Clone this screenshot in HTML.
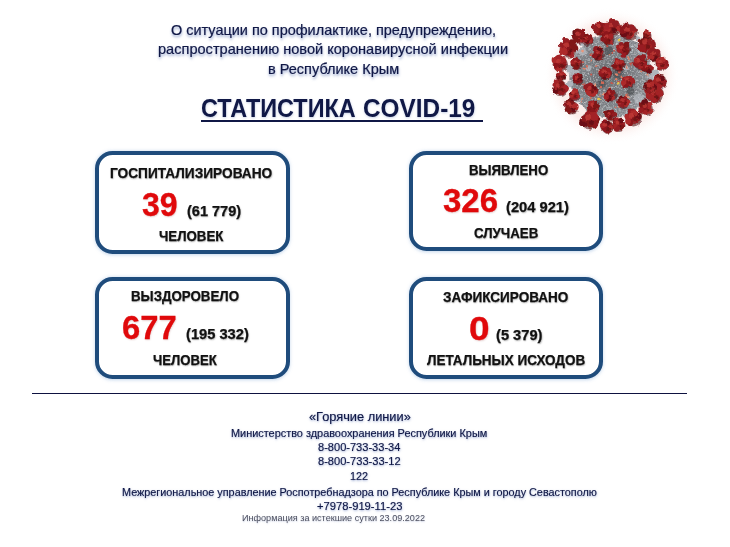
<!DOCTYPE html>
<html lang="ru"><head><meta charset="utf-8"><title>COVID-19</title>
<style>
html,body{margin:0;padding:0;}
body{width:730px;height:547px;position:relative;overflow:hidden;background:#fff;font-family:"Liberation Sans",sans-serif;}
.t{position:absolute;white-space:nowrap;transform-origin:0 0;display:block;}
.glow{text-shadow:0.3px 1.6px 2.8px rgba(60,90,165,.6);-webkit-text-stroke:0.2px #101846;}
.tglow{text-shadow:0.3px 1.2px 2.5px rgba(70,100,170,.3);}
.sh{text-shadow:0.6px 0.9px 1.6px rgba(0,0,0,.32);-webkit-text-stroke:0.25px #111;}
.rsh{text-shadow:0.6px 0.9px 1.8px rgba(120,0,0,.22);-webkit-text-stroke:0.3px #e0090b;}
.fglow{text-shadow:0.3px 1.2px 2.2px rgba(60,90,165,.55);-webkit-text-stroke:0.15px #101846;}
.box{position:absolute;box-sizing:border-box;border:4.2px solid #1f4c7c;border-radius:17.5px;background:#fff;box-shadow:0 0.5px 3.5px rgba(90,140,200,.35);}
.line{position:absolute;background:#101846;}
.iglow{text-shadow:0.2px 0.8px 1.5px rgba(80,100,160,.3);}
#pg{position:absolute;left:0;top:0;width:730px;height:547px;filter:blur(0.4px);}

</style></head><body>
<div id="pg">
<div class="box" style="left:95.3px;top:151px;width:194.5px;height:102.7px"></div>
<div class="box" style="left:408.8px;top:151.1px;width:194.6px;height:99.6px"></div>
<div class="box" style="left:95.3px;top:277.1px;width:194.5px;height:102.3px"></div>
<div class="box" style="left:408.8px;top:277.1px;width:194.5px;height:102.3px"></div>
<div class="line" style="left:200.5px;top:120.2px;width:282.5px;height:1.8px"></div>
<div class="line" style="left:31.8px;top:392.8px;width:655.2px;height:1.6px;background:#0e1240"></div>
<!--VIRUS-->
<svg id="virus" style="position:absolute;left:535px;top:0px" width="155" height="155" viewBox="535 0 155 155">
<defs>
<radialGradient id="vg" cx="0.45" cy="0.5" r="0.55"><stop offset="0" stop-color="#62676b"/><stop offset="0.6" stop-color="#7d8286"/><stop offset="1" stop-color="#999da2"/></radialGradient>
<radialGradient id="halo" cx="0.5" cy="0.5" r="0.5"><stop offset="0.78" stop-color="#f4d3cd" stop-opacity=".4"/><stop offset="1" stop-color="#fff" stop-opacity="0"/></radialGradient>
<filter id="vb" x="-10%" y="-10%" width="120%" height="120%"><feTurbulence type="fractalNoise" baseFrequency="0.18" numOctaves="2" seed="5" result="t"/><feDisplacementMap in="SourceGraphic" in2="t" scale="3.8" xChannelSelector="R" yChannelSelector="G" result="d"/><feGaussianBlur in="d" stdDeviation="0.5"/></filter>
<filter id="sp" x="0" y="0" width="100%" height="100%"><feTurbulence type="fractalNoise" baseFrequency="0.5" numOctaves="2" seed="3" result="n"/><feColorMatrix in="n" type="matrix" values="0 0 0 0 0.2  0 0 0 0 0.2  0 0 0 0 0.22  2.4 0 0 0 -0.9"/><feComposite in2="SourceGraphic" operator="in"/></filter>
<filter id="sp2" x="0" y="0" width="100%" height="100%"><feTurbulence type="fractalNoise" baseFrequency="0.6" numOctaves="2" seed="9" result="n"/><feColorMatrix in="n" type="matrix" values="0 0 0 0 0.78  0 0 0 0 0.80  0 0 0 0 0.83  0 1.8 0 0 -0.85"/><feComposite in2="SourceGraphic" operator="in"/></filter>
</defs>
<circle cx="611.67" cy="76.17" r="68" fill="url(#halo)"/>
<g transform="translate(611.2 76.1) scale(0.972) translate(-611.7 -76.2)"><g filter="url(#vb)">
<circle cx="611.67" cy="76.17" r="43" fill="url(#vg)"/>
<circle cx="611.67" cy="76.17" r="43" fill="#000" filter="url(#sp)"/>
<circle cx="611.67" cy="76.17" r="43" fill="#000" filter="url(#sp2)"/>
<circle cx="588.2" cy="68.0" r="3.0" fill="#b9bec5" opacity=".7"/>
<circle cx="573.4" cy="71.7" r="5.9" fill="#b9bec5" opacity=".7"/>
<circle cx="640.1" cy="100.1" r="4.9" fill="#b9bec5" opacity=".7"/>
<circle cx="582.0" cy="50.7" r="4.4" fill="#b9bec5" opacity=".7"/>
<circle cx="653.6" cy="77.9" r="4.0" fill="#b9bec5" opacity=".7"/>
<circle cx="627.7" cy="68.0" r="2.5" fill="#b9bec5" opacity=".7"/>
<circle cx="642.5" cy="48.3" r="4.0" fill="#b9bec5" opacity=".7"/>
<circle cx="568.5" cy="68.0" r="4.0" fill="#aeb4bb"/>
<circle cx="569.7" cy="84.1" r="3.5" fill="#aeb4bb"/>
<circle cx="657.3" cy="73.0" r="3.5" fill="#aeb4bb"/>
<circle cx="651.2" cy="97.7" r="4.0" fill="#aeb4bb"/>
<circle cx="582.0" cy="42.1" r="3.0" fill="#aeb4bb"/>
<circle cx="638.8" cy="37.2" r="3.0" fill="#aeb4bb"/>
<circle cx="577.1" cy="100.1" r="3.0" fill="#aeb4bb"/>
<circle cx="626.5" cy="116.2" r="2.5" fill="#aeb4bb"/>
<circle cx="609.2" cy="49.5" r="4.4" fill="#3c3f44" opacity=".55"/>
<circle cx="619.1" cy="74.2" r="5.4" fill="#3c3f44" opacity=".55"/>
<circle cx="601.8" cy="84.1" r="4.4" fill="#3c3f44" opacity=".55"/>
<circle cx="631.4" cy="91.5" r="4.0" fill="#3c3f44" opacity=".55"/>
<circle cx="653.6" cy="49.5" r="3.5" fill="#3c3f44" opacity=".55"/>
<circle cx="582.5" cy="85.2" r="1.2" fill="#c9574a"/>
<circle cx="622.6" cy="62.1" r="1.3" fill="#c9574a"/>
<circle cx="615.0" cy="64.1" r="1.0" fill="#e9967a"/>
<circle cx="574.3" cy="66.9" r="1.3" fill="#e08066"/>
<circle cx="589.9" cy="92.8" r="1.3" fill="#d96a55"/>
<circle cx="616.7" cy="67.2" r="1.0" fill="#e08066"/>
<circle cx="612.0" cy="83.2" r="1.1" fill="#c9574a"/>
<circle cx="596.5" cy="66.4" r="1.3" fill="#d96a55"/>
<circle cx="578.5" cy="76.2" r="1.3" fill="#c9574a"/>
<circle cx="586.4" cy="92.9" r="1.3" fill="#e08066"/>
<circle cx="603.9" cy="94.1" r="0.9" fill="#e9967a"/>
<circle cx="599.3" cy="71.0" r="1.4" fill="#e08066"/>
<circle cx="581.5" cy="102.3" r="1.0" fill="#e08066"/>
<circle cx="620.0" cy="72.0" r="1.5" fill="#c9574a"/>
<circle cx="602.9" cy="82.8" r="1.4" fill="#d96a55"/>
<circle cx="610.2" cy="88.1" r="0.9" fill="#e9967a"/>
<circle cx="578.6" cy="97.2" r="1.0" fill="#d96a55"/>
<circle cx="619.7" cy="82.1" r="1.0" fill="#c9574a"/>
<circle cx="586.3" cy="66.2" r="1.5" fill="#d96a55"/>
<circle cx="614.9" cy="50.0" r="1.0" fill="#c9574a"/>
<circle cx="595.1" cy="85.2" r="1.4" fill="#e9967a"/>
<circle cx="642.7" cy="71.2" r="1.0" fill="#e08066"/>
<circle cx="582.0" cy="99.4" r="0.9" fill="#e08066"/>
<circle cx="628.1" cy="97.7" r="1.4" fill="#e08066"/>
<circle cx="601.1" cy="95.7" r="0.9" fill="#e08066"/>
<circle cx="620.0" cy="107.6" r="1.3" fill="#e08066"/>
<circle cx="592.7" cy="96.0" r="1.4" fill="#c9574a"/>
<circle cx="628.3" cy="95.3" r="1.1" fill="#d96a55"/>
<circle cx="616.0" cy="107.8" r="1.0" fill="#d96a55"/>
<circle cx="590.7" cy="54.2" r="1.4" fill="#c9574a"/>
<circle cx="590.6" cy="60.1" r="1.0" fill="#e08066"/>
<circle cx="591.1" cy="74.6" r="1.1" fill="#c9574a"/>
<circle cx="625.7" cy="48.0" r="1.2" fill="#e9967a"/>
<circle cx="648.1" cy="58.8" r="1.0" fill="#d96a55"/>
<circle cx="576.6" cy="62.4" r="1.1" fill="#e08066"/>
<circle cx="627.7" cy="67.0" r="0.9" fill="#e08066"/>
<circle cx="594.4" cy="86.9" r="1.0" fill="#e08066"/>
<circle cx="590.7" cy="98.8" r="1.0" fill="#d96a55"/>
<circle cx="629.3" cy="97.1" r="1.3" fill="#e9967a"/>
<circle cx="600.4" cy="47.1" r="1.3" fill="#d96a55"/>
<circle cx="636.6" cy="63.2" r="1.3" fill="#e9967a"/>
<circle cx="617.5" cy="74.8" r="1.2" fill="#e08066"/>
<circle cx="608.9" cy="53.3" r="0.9" fill="#e08066"/>
<circle cx="578.1" cy="66.2" r="1.4" fill="#d96a55"/>
<circle cx="632.5" cy="63.9" r="1.4" fill="#c9574a"/>
<circle cx="629.8" cy="57.1" r="1.4" fill="#e08066"/>
<circle cx="582.7" cy="61.9" r="1.1" fill="#c9574a"/>
<circle cx="622.6" cy="77.0" r="1.3" fill="#e08066"/>
<circle cx="649.9" cy="74.6" r="1.1" fill="#e9967a"/>
<circle cx="608.7" cy="45.2" r="1.2" fill="#c9574a"/>
<circle cx="583.3" cy="68.6" r="1.1" fill="#e08066"/>
<circle cx="616.9" cy="79.4" r="1.2" fill="#e08066"/>
<circle cx="582.2" cy="50.4" r="1.4" fill="#e9967a"/>
<circle cx="601.2" cy="87.6" r="1.2" fill="#d96a55"/>
<circle cx="612.2" cy="52.3" r="1.2" fill="#c9574a"/>
<circle cx="619.8" cy="39.1" r="1.5" fill="#e6c34a"/>
<circle cx="598.8" cy="99.6" r="1.5" fill="#e6c34a"/>
<circle cx="619.1" cy="84.1" r="1.5" fill="#e6c34a"/>
<circle cx="600.5" cy="27.8" r="7.3" fill="#4e0d10" opacity=".6"/>
<circle cx="599.8" cy="26.8" r="5.9" fill="#87181b"/>
<circle cx="604.3" cy="26.1" r="2.7" fill="#801619"/>
<circle cx="603.3" cy="30.8" r="3.5" fill="#a32225"/>
<circle cx="599.1" cy="31.6" r="2.7" fill="#801619"/>
<circle cx="596.4" cy="29.5" r="2.5" fill="#931e21"/>
<circle cx="594.2" cy="25.7" r="2.7" fill="#931e21"/>
<circle cx="598.8" cy="22.7" r="3.5" fill="#a32225"/>
<circle cx="602.5" cy="22.9" r="2.8" fill="#8d191c"/>
<circle cx="598.6" cy="24.8" r="2.3" fill="#c03b37" opacity=".8"/>
<circle cx="601.9" cy="29.2" r="1.8" fill="#5e0f12" opacity=".7"/>
<circle cx="613.6" cy="26.8" r="7.9" fill="#4e0d10" opacity=".6"/>
<circle cx="612.9" cy="25.8" r="6.3" fill="#87181b"/>
<circle cx="618.9" cy="27.0" r="3.0" fill="#ad2a2b"/>
<circle cx="615.0" cy="29.8" r="2.7" fill="#6c1013"/>
<circle cx="611.1" cy="30.7" r="3.5" fill="#801619"/>
<circle cx="608.0" cy="27.9" r="3.2" fill="#ad2a2b"/>
<circle cx="607.2" cy="24.9" r="3.6" fill="#a32225"/>
<circle cx="612.6" cy="19.7" r="3.2" fill="#981c20"/>
<circle cx="616.6" cy="21.9" r="3.1" fill="#931e21"/>
<circle cx="611.6" cy="23.6" r="2.4" fill="#c03b37" opacity=".8"/>
<circle cx="615.1" cy="28.4" r="1.9" fill="#5e0f12" opacity=".7"/>
<circle cx="630.4" cy="31.2" r="8.4" fill="#4e0d10" opacity=".6"/>
<circle cx="629.7" cy="30.2" r="6.7" fill="#87181b"/>
<circle cx="634.2" cy="29.1" r="3.5" fill="#931e21"/>
<circle cx="632.9" cy="33.0" r="3.5" fill="#ad2a2b"/>
<circle cx="629.9" cy="35.0" r="3.3" fill="#931e21"/>
<circle cx="624.6" cy="32.0" r="4.2" fill="#6c1013"/>
<circle cx="623.7" cy="28.8" r="4.1" fill="#8d191c"/>
<circle cx="626.8" cy="24.6" r="3.3" fill="#8d191c"/>
<circle cx="632.5" cy="26.5" r="3.3" fill="#981c20"/>
<circle cx="628.3" cy="27.9" r="2.6" fill="#c03b37" opacity=".8"/>
<circle cx="632.0" cy="33.0" r="2.1" fill="#5e0f12" opacity=".7"/>
<circle cx="648.2" cy="44.3" r="8.4" fill="#4e0d10" opacity=".6"/>
<circle cx="647.5" cy="43.3" r="6.7" fill="#87181b"/>
<circle cx="653.7" cy="43.6" r="3.9" fill="#931e21"/>
<circle cx="650.9" cy="46.9" r="2.9" fill="#a32225"/>
<circle cx="644.9" cy="48.8" r="3.0" fill="#8d191c"/>
<circle cx="643.3" cy="46.2" r="4.2" fill="#981c20"/>
<circle cx="642.1" cy="40.6" r="3.2" fill="#801619"/>
<circle cx="647.1" cy="39.1" r="2.9" fill="#6c1013"/>
<circle cx="650.7" cy="38.9" r="3.2" fill="#931e21"/>
<circle cx="646.1" cy="41.0" r="2.6" fill="#c03b37" opacity=".8"/>
<circle cx="649.8" cy="46.1" r="2.1" fill="#5e0f12" opacity=".7"/>
<circle cx="656.8" cy="55.4" r="6.6" fill="#4e0d10" opacity=".6"/>
<circle cx="656.1" cy="54.4" r="5.2" fill="#87181b"/>
<circle cx="659.7" cy="55.4" r="2.3" fill="#931e21"/>
<circle cx="657.8" cy="57.6" r="2.9" fill="#801619"/>
<circle cx="654.2" cy="58.1" r="3.2" fill="#6c1013"/>
<circle cx="652.0" cy="56.4" r="3.2" fill="#ad2a2b"/>
<circle cx="651.6" cy="52.3" r="3.0" fill="#981c20"/>
<circle cx="655.0" cy="50.3" r="3.0" fill="#931e21"/>
<circle cx="659.0" cy="51.4" r="3.2" fill="#931e21"/>
<circle cx="655.0" cy="52.6" r="2.0" fill="#c03b37" opacity=".8"/>
<circle cx="657.9" cy="56.6" r="1.6" fill="#5e0f12" opacity=".7"/>
<circle cx="663.7" cy="64.1" r="6.6" fill="#4e0d10" opacity=".6"/>
<circle cx="663.0" cy="63.1" r="5.2" fill="#87181b"/>
<circle cx="667.5" cy="62.4" r="3.1" fill="#931e21"/>
<circle cx="665.2" cy="66.2" r="3.2" fill="#a32225"/>
<circle cx="662.0" cy="67.3" r="2.6" fill="#a32225"/>
<circle cx="660.5" cy="65.2" r="2.2" fill="#ad2a2b"/>
<circle cx="659.9" cy="60.3" r="2.8" fill="#ad2a2b"/>
<circle cx="663.3" cy="59.6" r="2.9" fill="#981c20"/>
<circle cx="664.7" cy="59.2" r="3.2" fill="#ad2a2b"/>
<circle cx="661.9" cy="61.3" r="2.0" fill="#c03b37" opacity=".8"/>
<circle cx="664.8" cy="65.3" r="1.6" fill="#5e0f12" opacity=".7"/>
<circle cx="661.7" cy="82.6" r="7.3" fill="#4e0d10" opacity=".6"/>
<circle cx="661.0" cy="81.6" r="5.9" fill="#87181b"/>
<circle cx="665.5" cy="82.4" r="3.0" fill="#a32225"/>
<circle cx="664.6" cy="84.4" r="3.6" fill="#931e21"/>
<circle cx="658.9" cy="85.8" r="2.7" fill="#981c20"/>
<circle cx="655.9" cy="83.7" r="3.3" fill="#a32225"/>
<circle cx="658.3" cy="79.1" r="2.7" fill="#a32225"/>
<circle cx="660.6" cy="77.3" r="2.7" fill="#801619"/>
<circle cx="664.0" cy="77.9" r="2.6" fill="#6c1013"/>
<circle cx="659.8" cy="79.6" r="2.3" fill="#c03b37" opacity=".8"/>
<circle cx="663.1" cy="84.1" r="1.8" fill="#5e0f12" opacity=".7"/>
<circle cx="656.8" cy="95.0" r="9.2" fill="#4e0d10" opacity=".6"/>
<circle cx="656.1" cy="94.0" r="7.3" fill="#87181b"/>
<circle cx="661.3" cy="94.0" r="4.1" fill="#a32225"/>
<circle cx="658.1" cy="98.1" r="3.7" fill="#8d191c"/>
<circle cx="654.9" cy="98.8" r="4.4" fill="#a32225"/>
<circle cx="651.4" cy="96.1" r="4.4" fill="#a32225"/>
<circle cx="650.2" cy="90.6" r="4.5" fill="#a32225"/>
<circle cx="655.3" cy="88.5" r="3.5" fill="#a32225"/>
<circle cx="659.8" cy="88.1" r="4.2" fill="#a32225"/>
<circle cx="654.6" cy="91.4" r="2.9" fill="#c03b37" opacity=".8"/>
<circle cx="658.7" cy="97.0" r="2.2" fill="#5e0f12" opacity=".7"/>
<circle cx="648.2" cy="109.8" r="7.3" fill="#4e0d10" opacity=".6"/>
<circle cx="647.5" cy="108.8" r="5.9" fill="#87181b"/>
<circle cx="651.3" cy="108.1" r="2.6" fill="#a32225"/>
<circle cx="651.0" cy="111.5" r="3.5" fill="#ad2a2b"/>
<circle cx="646.5" cy="114.0" r="2.7" fill="#a32225"/>
<circle cx="642.5" cy="110.7" r="2.7" fill="#981c20"/>
<circle cx="642.8" cy="105.8" r="2.6" fill="#801619"/>
<circle cx="646.3" cy="103.7" r="3.7" fill="#6c1013"/>
<circle cx="651.5" cy="105.4" r="2.6" fill="#ad2a2b"/>
<circle cx="646.2" cy="106.7" r="2.3" fill="#c03b37" opacity=".8"/>
<circle cx="649.5" cy="111.2" r="1.8" fill="#5e0f12" opacity=".7"/>
<circle cx="634.6" cy="119.6" r="8.4" fill="#4e0d10" opacity=".6"/>
<circle cx="633.9" cy="118.6" r="6.7" fill="#87181b"/>
<circle cx="639.2" cy="117.1" r="4.1" fill="#6c1013"/>
<circle cx="636.8" cy="122.2" r="3.1" fill="#981c20"/>
<circle cx="631.2" cy="124.6" r="2.9" fill="#8d191c"/>
<circle cx="629.0" cy="122.8" r="2.9" fill="#ad2a2b"/>
<circle cx="628.9" cy="117.6" r="3.5" fill="#ad2a2b"/>
<circle cx="632.4" cy="113.2" r="3.7" fill="#981c20"/>
<circle cx="635.7" cy="114.3" r="3.4" fill="#ad2a2b"/>
<circle cx="632.5" cy="116.3" r="2.6" fill="#c03b37" opacity=".8"/>
<circle cx="636.2" cy="121.4" r="2.1" fill="#5e0f12" opacity=".7"/>
<circle cx="619.8" cy="127.0" r="6.6" fill="#4e0d10" opacity=".6"/>
<circle cx="619.1" cy="126.0" r="5.2" fill="#87181b"/>
<circle cx="623.0" cy="126.6" r="2.8" fill="#a32225"/>
<circle cx="622.8" cy="128.9" r="3.2" fill="#801619"/>
<circle cx="617.3" cy="130.2" r="3.2" fill="#931e21"/>
<circle cx="614.8" cy="126.8" r="2.7" fill="#a32225"/>
<circle cx="615.6" cy="122.9" r="2.5" fill="#801619"/>
<circle cx="617.0" cy="121.9" r="3.1" fill="#a32225"/>
<circle cx="621.9" cy="122.0" r="2.9" fill="#6c1013"/>
<circle cx="618.0" cy="124.2" r="2.0" fill="#c03b37" opacity=".8"/>
<circle cx="620.9" cy="128.2" r="1.6" fill="#5e0f12" opacity=".7"/>
<circle cx="607.4" cy="129.0" r="6.6" fill="#4e0d10" opacity=".6"/>
<circle cx="606.7" cy="128.0" r="5.2" fill="#87181b"/>
<circle cx="611.3" cy="128.8" r="2.4" fill="#ad2a2b"/>
<circle cx="610.3" cy="131.1" r="2.7" fill="#801619"/>
<circle cx="607.0" cy="131.9" r="3.2" fill="#8d191c"/>
<circle cx="603.9" cy="130.5" r="2.5" fill="#8d191c"/>
<circle cx="602.9" cy="126.9" r="2.8" fill="#a32225"/>
<circle cx="605.3" cy="123.1" r="2.4" fill="#8d191c"/>
<circle cx="608.4" cy="124.4" r="2.2" fill="#6c1013"/>
<circle cx="605.6" cy="126.2" r="2.0" fill="#c03b37" opacity=".8"/>
<circle cx="608.5" cy="130.2" r="1.6" fill="#5e0f12" opacity=".7"/>
<circle cx="590.1" cy="122.1" r="9.2" fill="#4e0d10" opacity=".6"/>
<circle cx="589.4" cy="121.1" r="7.3" fill="#87181b"/>
<circle cx="595.9" cy="121.6" r="3.7" fill="#801619"/>
<circle cx="593.5" cy="126.2" r="3.6" fill="#8d191c"/>
<circle cx="589.5" cy="126.3" r="3.9" fill="#801619"/>
<circle cx="583.1" cy="124.1" r="4.4" fill="#6c1013"/>
<circle cx="583.8" cy="119.9" r="3.2" fill="#8d191c"/>
<circle cx="588.4" cy="114.7" r="3.7" fill="#981c20"/>
<circle cx="593.9" cy="117.8" r="4.4" fill="#a32225"/>
<circle cx="587.9" cy="118.6" r="2.9" fill="#c03b37" opacity=".8"/>
<circle cx="592.0" cy="124.2" r="2.2" fill="#5e0f12" opacity=".7"/>
<circle cx="570.4" cy="108.5" r="7.3" fill="#4e0d10" opacity=".6"/>
<circle cx="569.7" cy="107.5" r="5.9" fill="#87181b"/>
<circle cx="574.6" cy="107.7" r="3.6" fill="#ad2a2b"/>
<circle cx="572.8" cy="111.1" r="2.8" fill="#6c1013"/>
<circle cx="568.6" cy="112.1" r="3.1" fill="#801619"/>
<circle cx="565.4" cy="110.3" r="2.5" fill="#801619"/>
<circle cx="565.7" cy="104.7" r="2.6" fill="#8d191c"/>
<circle cx="569.4" cy="103.1" r="3.4" fill="#801619"/>
<circle cx="571.9" cy="102.3" r="2.5" fill="#801619"/>
<circle cx="568.5" cy="105.5" r="2.3" fill="#c03b37" opacity=".8"/>
<circle cx="571.7" cy="110.0" r="1.8" fill="#5e0f12" opacity=".7"/>
<circle cx="574.1" cy="96.2" r="5.8" fill="#4e0d10" opacity=".6"/>
<circle cx="573.4" cy="95.2" r="4.6" fill="#87181b"/>
<circle cx="576.9" cy="96.0" r="2.2" fill="#ad2a2b"/>
<circle cx="574.9" cy="97.8" r="2.8" fill="#981c20"/>
<circle cx="572.1" cy="98.6" r="2.2" fill="#931e21"/>
<circle cx="570.6" cy="96.1" r="2.4" fill="#ad2a2b"/>
<circle cx="570.5" cy="94.4" r="2.1" fill="#6c1013"/>
<circle cx="572.5" cy="92.2" r="2.4" fill="#ad2a2b"/>
<circle cx="575.3" cy="91.9" r="2.3" fill="#ad2a2b"/>
<circle cx="572.4" cy="93.6" r="1.8" fill="#c03b37" opacity=".8"/>
<circle cx="575.0" cy="97.1" r="1.4" fill="#5e0f12" opacity=".7"/>
<circle cx="559.3" cy="88.8" r="7.9" fill="#4e0d10" opacity=".6"/>
<circle cx="558.6" cy="87.8" r="6.3" fill="#87181b"/>
<circle cx="564.2" cy="88.6" r="3.9" fill="#a32225"/>
<circle cx="560.8" cy="91.6" r="3.3" fill="#981c20"/>
<circle cx="558.0" cy="92.8" r="3.1" fill="#931e21"/>
<circle cx="554.1" cy="90.8" r="3.5" fill="#6c1013"/>
<circle cx="554.2" cy="86.6" r="2.9" fill="#a32225"/>
<circle cx="556.4" cy="82.1" r="3.8" fill="#a32225"/>
<circle cx="560.2" cy="84.0" r="3.0" fill="#801619"/>
<circle cx="557.3" cy="85.6" r="2.4" fill="#c03b37" opacity=".8"/>
<circle cx="560.8" cy="90.4" r="1.9" fill="#5e0f12" opacity=".7"/>
<circle cx="559.3" cy="64.1" r="7.9" fill="#4e0d10" opacity=".6"/>
<circle cx="558.6" cy="63.1" r="6.3" fill="#87181b"/>
<circle cx="562.4" cy="62.0" r="3.3" fill="#a32225"/>
<circle cx="561.9" cy="65.6" r="2.8" fill="#8d191c"/>
<circle cx="558.2" cy="69.2" r="3.2" fill="#ad2a2b"/>
<circle cx="554.8" cy="65.8" r="2.8" fill="#8d191c"/>
<circle cx="554.1" cy="59.6" r="3.7" fill="#ad2a2b"/>
<circle cx="557.7" cy="57.5" r="3.2" fill="#a32225"/>
<circle cx="562.1" cy="59.8" r="3.1" fill="#a32225"/>
<circle cx="557.3" cy="60.9" r="2.4" fill="#c03b37" opacity=".8"/>
<circle cx="560.8" cy="65.7" r="1.9" fill="#5e0f12" opacity=".7"/>
<circle cx="567.9" cy="48.0" r="9.2" fill="#4e0d10" opacity=".6"/>
<circle cx="567.2" cy="47.0" r="7.3" fill="#87181b"/>
<circle cx="574.3" cy="47.7" r="3.5" fill="#801619"/>
<circle cx="570.5" cy="52.9" r="3.7" fill="#a32225"/>
<circle cx="566.5" cy="51.8" r="3.2" fill="#801619"/>
<circle cx="562.6" cy="50.9" r="4.3" fill="#ad2a2b"/>
<circle cx="561.1" cy="44.3" r="3.2" fill="#981c20"/>
<circle cx="564.8" cy="41.2" r="4.1" fill="#981c20"/>
<circle cx="571.3" cy="41.9" r="3.5" fill="#801619"/>
<circle cx="565.7" cy="44.5" r="2.9" fill="#c03b37" opacity=".8"/>
<circle cx="569.8" cy="50.1" r="2.2" fill="#5e0f12" opacity=".7"/>
<circle cx="579.0" cy="35.7" r="7.3" fill="#4e0d10" opacity=".6"/>
<circle cx="578.3" cy="34.7" r="5.9" fill="#87181b"/>
<circle cx="582.6" cy="33.8" r="2.8" fill="#8d191c"/>
<circle cx="580.1" cy="38.6" r="3.1" fill="#ad2a2b"/>
<circle cx="575.8" cy="39.7" r="3.0" fill="#801619"/>
<circle cx="574.2" cy="35.8" r="2.7" fill="#801619"/>
<circle cx="574.5" cy="31.3" r="2.8" fill="#6c1013"/>
<circle cx="577.0" cy="30.5" r="3.3" fill="#801619"/>
<circle cx="581.8" cy="30.7" r="3.1" fill="#8d191c"/>
<circle cx="577.1" cy="32.7" r="2.3" fill="#c03b37" opacity=".8"/>
<circle cx="580.4" cy="37.1" r="1.8" fill="#5e0f12" opacity=".7"/>
<circle cx="587.7" cy="39.4" r="5.8" fill="#4e0d10" opacity=".6"/>
<circle cx="587.0" cy="38.4" r="4.6" fill="#87181b"/>
<circle cx="590.7" cy="39.1" r="2.5" fill="#931e21"/>
<circle cx="589.3" cy="40.4" r="2.8" fill="#ad2a2b"/>
<circle cx="586.7" cy="41.3" r="2.0" fill="#6c1013"/>
<circle cx="584.3" cy="40.4" r="2.5" fill="#981c20"/>
<circle cx="584.6" cy="36.6" r="2.2" fill="#6c1013"/>
<circle cx="586.3" cy="35.0" r="2.6" fill="#801619"/>
<circle cx="589.4" cy="36.5" r="2.6" fill="#8d191c"/>
<circle cx="586.0" cy="36.8" r="1.8" fill="#c03b37" opacity=".8"/>
<circle cx="588.6" cy="40.3" r="1.4" fill="#5e0f12" opacity=".7"/>
<circle cx="560.5" cy="76.4" r="4.7" fill="#4e0d10" opacity=".6"/>
<circle cx="559.8" cy="75.4" r="3.8" fill="#87181b"/>
<circle cx="563.1" cy="74.6" r="1.8" fill="#ad2a2b"/>
<circle cx="562.3" cy="77.7" r="1.8" fill="#6c1013"/>
<circle cx="559.3" cy="78.2" r="2.3" fill="#931e21"/>
<circle cx="557.0" cy="76.5" r="2.2" fill="#6c1013"/>
<circle cx="556.7" cy="74.8" r="1.9" fill="#981c20"/>
<circle cx="559.7" cy="72.2" r="1.6" fill="#931e21"/>
<circle cx="561.2" cy="73.4" r="2.3" fill="#ad2a2b"/>
<circle cx="559.0" cy="74.1" r="1.5" fill="#c03b37" opacity=".8"/>
<circle cx="561.1" cy="77.0" r="1.2" fill="#5e0f12" opacity=".7"/>
<circle cx="649.4" cy="34.5" r="3.7" fill="#4e0d10" opacity=".6"/>
<circle cx="648.7" cy="33.5" r="2.9" fill="#87181b"/>
<circle cx="651.1" cy="33.7" r="1.2" fill="#8d191c"/>
<circle cx="650.9" cy="35.2" r="1.4" fill="#a32225"/>
<circle cx="648.6" cy="35.9" r="1.3" fill="#8d191c"/>
<circle cx="646.9" cy="34.8" r="1.4" fill="#801619"/>
<circle cx="646.9" cy="32.0" r="1.3" fill="#8d191c"/>
<circle cx="648.3" cy="30.9" r="1.8" fill="#a32225"/>
<circle cx="650.1" cy="32.2" r="1.8" fill="#ad2a2b"/>
<circle cx="648.1" cy="32.4" r="1.1" fill="#c03b37" opacity=".8"/>
<circle cx="649.7" cy="34.7" r="0.9" fill="#5e0f12" opacity=".7"/>
<circle cx="608.7" cy="38.2" r="6.4" fill="#4e0d10" opacity=".6"/>
<circle cx="608.0" cy="37.2" r="5.1" fill="#87181b"/>
<circle cx="611.2" cy="36.2" r="2.5" fill="#a32225"/>
<circle cx="610.4" cy="40.6" r="2.8" fill="#ad2a2b"/>
<circle cx="607.8" cy="40.7" r="2.6" fill="#801619"/>
<circle cx="603.2" cy="38.1" r="2.7" fill="#8d191c"/>
<circle cx="604.7" cy="34.7" r="2.6" fill="#801619"/>
<circle cx="606.6" cy="32.5" r="2.7" fill="#8d191c"/>
<circle cx="611.3" cy="34.8" r="2.6" fill="#a32225"/>
<circle cx="606.9" cy="35.4" r="2.0" fill="#c03b37" opacity=".8"/>
<circle cx="609.7" cy="39.3" r="1.6" fill="#5e0f12" opacity=".7"/>
<circle cx="624.7" cy="49.3" r="6.4" fill="#4e0d10" opacity=".6"/>
<circle cx="624.0" cy="48.3" r="5.1" fill="#87181b"/>
<circle cx="627.4" cy="47.7" r="2.5" fill="#931e21"/>
<circle cx="626.5" cy="51.5" r="3.0" fill="#801619"/>
<circle cx="624.2" cy="53.1" r="3.1" fill="#981c20"/>
<circle cx="620.1" cy="49.1" r="2.9" fill="#a32225"/>
<circle cx="621.0" cy="46.6" r="3.0" fill="#a32225"/>
<circle cx="622.0" cy="43.9" r="2.7" fill="#931e21"/>
<circle cx="627.4" cy="44.7" r="2.7" fill="#801619"/>
<circle cx="622.9" cy="46.5" r="2.0" fill="#c03b37" opacity=".8"/>
<circle cx="625.8" cy="50.4" r="1.6" fill="#5e0f12" opacity=".7"/>
<circle cx="598.8" cy="54.2" r="6.4" fill="#4e0d10" opacity=".6"/>
<circle cx="598.1" cy="53.2" r="5.1" fill="#87181b"/>
<circle cx="602.1" cy="52.1" r="2.1" fill="#a32225"/>
<circle cx="600.3" cy="57.4" r="2.3" fill="#931e21"/>
<circle cx="597.5" cy="57.5" r="2.2" fill="#6c1013"/>
<circle cx="594.5" cy="55.0" r="2.8" fill="#8d191c"/>
<circle cx="595.1" cy="50.9" r="2.3" fill="#931e21"/>
<circle cx="596.3" cy="49.2" r="3.0" fill="#931e21"/>
<circle cx="600.1" cy="49.6" r="2.7" fill="#6c1013"/>
<circle cx="597.0" cy="51.4" r="2.0" fill="#c03b37" opacity=".8"/>
<circle cx="599.9" cy="55.3" r="1.6" fill="#5e0f12" opacity=".7"/>
<circle cx="642.0" cy="62.9" r="7.2" fill="#4e0d10" opacity=".6"/>
<circle cx="641.3" cy="61.9" r="5.7" fill="#87181b"/>
<circle cx="646.6" cy="63.3" r="2.8" fill="#801619"/>
<circle cx="644.6" cy="64.4" r="3.2" fill="#ad2a2b"/>
<circle cx="641.4" cy="65.6" r="2.5" fill="#a32225"/>
<circle cx="637.4" cy="64.1" r="3.4" fill="#931e21"/>
<circle cx="638.2" cy="60.0" r="3.2" fill="#ad2a2b"/>
<circle cx="640.3" cy="57.8" r="2.9" fill="#981c20"/>
<circle cx="643.4" cy="56.7" r="3.2" fill="#931e21"/>
<circle cx="640.1" cy="59.9" r="2.2" fill="#c03b37" opacity=".8"/>
<circle cx="643.3" cy="64.2" r="1.7" fill="#5e0f12" opacity=".7"/>
<circle cx="619.8" cy="65.3" r="6.4" fill="#4e0d10" opacity=".6"/>
<circle cx="619.1" cy="64.3" r="5.1" fill="#87181b"/>
<circle cx="622.4" cy="65.1" r="2.5" fill="#8d191c"/>
<circle cx="621.3" cy="67.3" r="2.9" fill="#801619"/>
<circle cx="618.2" cy="67.6" r="2.3" fill="#a32225"/>
<circle cx="615.5" cy="65.5" r="2.7" fill="#801619"/>
<circle cx="615.9" cy="62.2" r="2.5" fill="#931e21"/>
<circle cx="617.2" cy="60.5" r="2.9" fill="#a32225"/>
<circle cx="621.6" cy="61.9" r="2.2" fill="#ad2a2b"/>
<circle cx="618.0" cy="62.5" r="2.0" fill="#c03b37" opacity=".8"/>
<circle cx="620.8" cy="66.5" r="1.6" fill="#5e0f12" opacity=".7"/>
<circle cx="606.2" cy="74.0" r="6.4" fill="#4e0d10" opacity=".6"/>
<circle cx="605.5" cy="73.0" r="5.1" fill="#87181b"/>
<circle cx="609.9" cy="72.9" r="2.4" fill="#981c20"/>
<circle cx="608.1" cy="75.1" r="3.0" fill="#ad2a2b"/>
<circle cx="604.9" cy="77.6" r="2.3" fill="#6c1013"/>
<circle cx="602.7" cy="75.0" r="2.5" fill="#8d191c"/>
<circle cx="601.8" cy="71.6" r="2.9" fill="#981c20"/>
<circle cx="604.9" cy="69.3" r="3.0" fill="#931e21"/>
<circle cx="608.5" cy="69.9" r="2.4" fill="#981c20"/>
<circle cx="604.4" cy="71.2" r="2.0" fill="#c03b37" opacity=".8"/>
<circle cx="607.3" cy="75.1" r="1.6" fill="#5e0f12" opacity=".7"/>
<circle cx="576.6" cy="64.1" r="5.6" fill="#4e0d10" opacity=".6"/>
<circle cx="575.9" cy="63.1" r="4.5" fill="#87181b"/>
<circle cx="579.1" cy="62.5" r="2.0" fill="#ad2a2b"/>
<circle cx="578.3" cy="65.7" r="2.1" fill="#931e21"/>
<circle cx="575.9" cy="67.0" r="2.6" fill="#801619"/>
<circle cx="572.3" cy="63.8" r="2.4" fill="#801619"/>
<circle cx="572.5" cy="61.5" r="2.8" fill="#a32225"/>
<circle cx="575.0" cy="59.2" r="2.8" fill="#931e21"/>
<circle cx="577.7" cy="60.9" r="2.1" fill="#8d191c"/>
<circle cx="574.9" cy="61.5" r="1.7" fill="#c03b37" opacity=".8"/>
<circle cx="577.4" cy="65.0" r="1.4" fill="#5e0f12" opacity=".7"/>
<circle cx="577.8" cy="80.1" r="5.6" fill="#4e0d10" opacity=".6"/>
<circle cx="577.1" cy="79.1" r="4.5" fill="#87181b"/>
<circle cx="580.2" cy="78.3" r="2.3" fill="#6c1013"/>
<circle cx="579.2" cy="81.3" r="2.2" fill="#931e21"/>
<circle cx="576.5" cy="82.1" r="2.0" fill="#8d191c"/>
<circle cx="573.5" cy="79.9" r="1.9" fill="#6c1013"/>
<circle cx="574.7" cy="77.2" r="2.8" fill="#8d191c"/>
<circle cx="577.0" cy="75.4" r="2.7" fill="#981c20"/>
<circle cx="578.5" cy="75.5" r="2.1" fill="#801619"/>
<circle cx="576.2" cy="77.6" r="1.7" fill="#c03b37" opacity=".8"/>
<circle cx="578.7" cy="81.0" r="1.4" fill="#5e0f12" opacity=".7"/>
<circle cx="629.7" cy="82.6" r="6.4" fill="#4e0d10" opacity=".6"/>
<circle cx="629.0" cy="81.6" r="5.1" fill="#87181b"/>
<circle cx="633.6" cy="81.8" r="2.8" fill="#a32225"/>
<circle cx="630.8" cy="85.1" r="2.3" fill="#ad2a2b"/>
<circle cx="626.5" cy="85.8" r="2.3" fill="#8d191c"/>
<circle cx="624.5" cy="83.0" r="2.8" fill="#ad2a2b"/>
<circle cx="625.0" cy="79.3" r="2.3" fill="#a32225"/>
<circle cx="628.1" cy="78.3" r="2.3" fill="#ad2a2b"/>
<circle cx="631.1" cy="78.5" r="2.4" fill="#a32225"/>
<circle cx="627.9" cy="79.8" r="2.0" fill="#c03b37" opacity=".8"/>
<circle cx="630.7" cy="83.7" r="1.6" fill="#5e0f12" opacity=".7"/>
<circle cx="591.4" cy="91.2" r="6.4" fill="#4e0d10" opacity=".6"/>
<circle cx="590.7" cy="90.2" r="5.1" fill="#87181b"/>
<circle cx="594.5" cy="90.4" r="3.0" fill="#8d191c"/>
<circle cx="593.0" cy="94.2" r="3.2" fill="#ad2a2b"/>
<circle cx="589.5" cy="94.1" r="3.1" fill="#ad2a2b"/>
<circle cx="586.6" cy="91.1" r="2.9" fill="#ad2a2b"/>
<circle cx="586.2" cy="88.1" r="3.1" fill="#931e21"/>
<circle cx="590.2" cy="85.6" r="2.7" fill="#981c20"/>
<circle cx="594.0" cy="87.7" r="2.7" fill="#6c1013"/>
<circle cx="589.6" cy="88.5" r="2.0" fill="#c03b37" opacity=".8"/>
<circle cx="592.5" cy="92.4" r="1.6" fill="#5e0f12" opacity=".7"/>
<circle cx="611.1" cy="96.2" r="6.4" fill="#4e0d10" opacity=".6"/>
<circle cx="610.4" cy="95.2" r="5.1" fill="#87181b"/>
<circle cx="613.7" cy="95.0" r="2.4" fill="#981c20"/>
<circle cx="612.7" cy="98.4" r="2.8" fill="#ad2a2b"/>
<circle cx="609.1" cy="98.7" r="3.1" fill="#6c1013"/>
<circle cx="606.6" cy="97.8" r="2.7" fill="#a32225"/>
<circle cx="607.4" cy="93.9" r="2.2" fill="#8d191c"/>
<circle cx="610.5" cy="91.0" r="2.6" fill="#8d191c"/>
<circle cx="612.1" cy="92.3" r="3.2" fill="#8d191c"/>
<circle cx="609.4" cy="93.4" r="2.0" fill="#c03b37" opacity=".8"/>
<circle cx="612.2" cy="97.3" r="1.6" fill="#5e0f12" opacity=".7"/>
<circle cx="624.7" cy="103.6" r="6.4" fill="#4e0d10" opacity=".6"/>
<circle cx="624.0" cy="102.6" r="5.1" fill="#87181b"/>
<circle cx="628.7" cy="103.1" r="2.7" fill="#ad2a2b"/>
<circle cx="627.3" cy="105.4" r="2.7" fill="#ad2a2b"/>
<circle cx="622.5" cy="105.6" r="2.3" fill="#931e21"/>
<circle cx="619.9" cy="103.5" r="2.1" fill="#ad2a2b"/>
<circle cx="620.4" cy="101.5" r="2.3" fill="#801619"/>
<circle cx="623.0" cy="98.7" r="2.6" fill="#6c1013"/>
<circle cx="626.4" cy="99.1" r="2.5" fill="#981c20"/>
<circle cx="622.9" cy="100.8" r="2.0" fill="#c03b37" opacity=".8"/>
<circle cx="625.8" cy="104.7" r="1.6" fill="#5e0f12" opacity=".7"/>
<circle cx="593.8" cy="108.5" r="5.6" fill="#4e0d10" opacity=".6"/>
<circle cx="593.1" cy="107.5" r="4.5" fill="#87181b"/>
<circle cx="596.4" cy="107.4" r="2.3" fill="#801619"/>
<circle cx="594.9" cy="111.5" r="2.7" fill="#ad2a2b"/>
<circle cx="593.0" cy="111.7" r="2.7" fill="#8d191c"/>
<circle cx="589.8" cy="110.0" r="2.7" fill="#801619"/>
<circle cx="589.4" cy="106.9" r="2.8" fill="#8d191c"/>
<circle cx="591.7" cy="104.0" r="2.8" fill="#a32225"/>
<circle cx="596.3" cy="105.3" r="2.6" fill="#801619"/>
<circle cx="592.2" cy="106.0" r="1.7" fill="#c03b37" opacity=".8"/>
<circle cx="594.7" cy="109.4" r="1.4" fill="#5e0f12" opacity=".7"/>
<circle cx="611.1" cy="117.2" r="5.6" fill="#4e0d10" opacity=".6"/>
<circle cx="610.4" cy="116.2" r="4.5" fill="#87181b"/>
<circle cx="614.6" cy="115.7" r="2.3" fill="#931e21"/>
<circle cx="611.9" cy="119.2" r="2.3" fill="#931e21"/>
<circle cx="610.5" cy="119.3" r="2.0" fill="#801619"/>
<circle cx="607.4" cy="117.2" r="2.1" fill="#8d191c"/>
<circle cx="607.0" cy="114.1" r="2.6" fill="#801619"/>
<circle cx="609.8" cy="113.2" r="2.1" fill="#6c1013"/>
<circle cx="612.7" cy="112.6" r="2.1" fill="#8d191c"/>
<circle cx="609.5" cy="114.6" r="1.7" fill="#c03b37" opacity=".8"/>
<circle cx="612.0" cy="118.0" r="1.4" fill="#5e0f12" opacity=".7"/>
<circle cx="649.4" cy="69.0" r="5.1" fill="#4e0d10" opacity=".6"/>
<circle cx="648.7" cy="68.0" r="4.1" fill="#87181b"/>
<circle cx="652.1" cy="67.3" r="2.5" fill="#ad2a2b"/>
<circle cx="650.9" cy="70.5" r="2.5" fill="#6c1013"/>
<circle cx="648.9" cy="71.4" r="1.9" fill="#6c1013"/>
<circle cx="646.1" cy="68.7" r="2.5" fill="#801619"/>
<circle cx="646.0" cy="67.3" r="2.2" fill="#8d191c"/>
<circle cx="647.2" cy="64.5" r="2.2" fill="#981c20"/>
<circle cx="651.4" cy="66.0" r="2.5" fill="#981c20"/>
<circle cx="647.9" cy="66.6" r="1.6" fill="#c03b37" opacity=".8"/>
<circle cx="650.1" cy="69.7" r="1.2" fill="#5e0f12" opacity=".7"/>
<circle cx="651.9" cy="87.5" r="6.4" fill="#4e0d10" opacity=".6"/>
<circle cx="651.2" cy="86.5" r="5.1" fill="#87181b"/>
<circle cx="654.7" cy="86.5" r="3.0" fill="#6c1013"/>
<circle cx="652.7" cy="90.0" r="3.0" fill="#ad2a2b"/>
<circle cx="650.2" cy="90.5" r="2.8" fill="#931e21"/>
<circle cx="646.7" cy="87.3" r="2.3" fill="#6c1013"/>
<circle cx="648.3" cy="84.5" r="2.6" fill="#6c1013"/>
<circle cx="650.7" cy="82.4" r="3.0" fill="#801619"/>
<circle cx="653.9" cy="84.2" r="2.7" fill="#ad2a2b"/>
<circle cx="650.1" cy="84.8" r="2.0" fill="#c03b37" opacity=".8"/>
<circle cx="652.9" cy="88.7" r="1.6" fill="#5e0f12" opacity=".7"/>
</g></g></svg>
<span id="h1" class="t glow" style="left:170.52px;top:23.14px;font-size:14.6px;line-height:14.6px;font-weight:400;color:#101846;transform:scaleX(0.9908)">О ситуации по профилактике, предупреждению,</span>
<span id="h2" class="t glow" style="left:158.09px;top:42.34px;font-size:14.6px;line-height:14.6px;font-weight:400;color:#101846;transform:scaleX(0.9990)">распространению новой коронавирусной инфекции</span>
<span id="h3" class="t glow" style="left:268.19px;top:61.54px;font-size:14.6px;line-height:14.6px;font-weight:400;color:#101846;transform:scaleX(0.9943)">в Республике Крым</span>
<span id="title" class="t tglow" style="left:200.87px;top:94.99px;font-size:26px;line-height:26px;font-weight:700;color:#101846;transform:scaleX(0.9005)">СТАТИСТИКА</span>
<span id="title2" class="t tglow" style="left:363.34px;top:94.99px;font-size:26px;line-height:26px;font-weight:700;color:#101846;transform:scaleX(0.9370)">COVID-19</span>
<span id="b1a" class="t sh" style="left:110.45px;top:164.80px;font-size:15px;line-height:15px;font-weight:700;color:#111;transform:scaleX(0.9115)">ГОСПИТАЛИЗИРОВАНО</span>
<span id="b1n" class="t rsh" style="left:142.40px;top:187.64px;font-size:33.5px;line-height:33.5px;font-weight:700;color:#e0090b;transform:scaleX(0.9553)">39</span>
<span id="b1p" class="t sh" style="left:187.32px;top:203.70px;font-size:14.3px;line-height:14.3px;font-weight:700;color:#111;transform:scaleX(1.0158)">(61 779)</span>
<span id="b1c" class="t sh" style="left:158.68px;top:228.00px;font-size:15px;line-height:15px;font-weight:700;color:#111;transform:scaleX(0.8845)">ЧЕЛОВЕК</span>
<span id="b2a" class="t sh" style="left:468.87px;top:161.50px;font-size:15px;line-height:15px;font-weight:700;color:#111;transform:scaleX(0.8820)">ВЫЯВЛЕНО</span>
<span id="b2n" class="t rsh" style="left:443.38px;top:184.34px;font-size:33.5px;line-height:33.5px;font-weight:700;color:#e0090b;transform:scaleX(0.9847)">326</span>
<span id="b2p" class="t sh" style="left:506.01px;top:200.40px;font-size:14.3px;line-height:14.3px;font-weight:700;color:#111;transform:scaleX(1.0279)">(204 921)</span>
<span id="b2c" class="t sh" style="left:473.78px;top:224.80px;font-size:15px;line-height:15px;font-weight:700;color:#111;transform:scaleX(0.8863)">СЛУЧАЕВ</span>
<span id="b3a" class="t sh" style="left:131.17px;top:288.30px;font-size:15px;line-height:15px;font-weight:700;color:#111;transform:scaleX(0.8869)">ВЫЗДОРОВЕЛО</span>
<span id="b3n" class="t rsh" style="left:122.38px;top:311.04px;font-size:33.5px;line-height:33.5px;font-weight:700;color:#e0090b;transform:scaleX(0.9778)">677</span>
<span id="b3p" class="t sh" style="left:185.91px;top:327.20px;font-size:14.3px;line-height:14.3px;font-weight:700;color:#111;transform:scaleX(1.0262)">(195 332)</span>
<span id="b3c" class="t sh" style="left:153.28px;top:351.60px;font-size:15px;line-height:15px;font-weight:700;color:#111;transform:scaleX(0.8762)">ЧЕЛОВЕК</span>
<span id="b4a" class="t sh" style="left:442.59px;top:289.40px;font-size:15px;line-height:15px;font-weight:700;color:#111;transform:scaleX(0.9027)">ЗАФИКСИРОВАНО</span>
<span id="b4n" class="t rsh" style="left:469.25px;top:312.24px;font-size:33.5px;line-height:33.5px;font-weight:700;color:#e0090b;transform:scaleX(1.1031)">0</span>
<span id="b4p" class="t sh" style="left:496.21px;top:328.00px;font-size:14.3px;line-height:14.3px;font-weight:700;color:#111;transform:scaleX(1.0244)">(5 379)</span>
<span id="b4c" class="t sh" style="left:427.30px;top:351.80px;font-size:15px;line-height:15px;font-weight:700;color:#111;transform:scaleX(0.8983)">ЛЕТАЛЬНЫХ ИСХОДОВ</span>
<span id="f0" class="t fglow" style="left:308.62px;top:410.64px;font-size:12px;line-height:12px;font-weight:400;color:#101846;transform:scaleX(1.0663)">«Горячие линии»</span>
<span id="f1" class="t fglow" style="left:231.12px;top:427.71px;font-size:10.5px;line-height:10.5px;font-weight:400;color:#101846;transform:scaleX(1.0385)">Министерство здравоохранения Республики Крым</span>
<span id="f2" class="t fglow" style="left:318.16px;top:441.75px;font-size:11.4px;line-height:11.4px;font-weight:400;color:#101846;transform:scaleX(0.9705)">8-800-733-33-34</span>
<span id="f3" class="t fglow" style="left:318.16px;top:456.05px;font-size:11.4px;line-height:11.4px;font-weight:400;color:#101846;transform:scaleX(0.9734)">8-800-733-33-12</span>
<span id="f4" class="t fglow" style="left:350.29px;top:470.65px;font-size:11.4px;line-height:11.4px;font-weight:400;color:#101846;transform:scaleX(0.9472)">122</span>
<span id="f5" class="t fglow" style="left:121.62px;top:486.71px;font-size:10.5px;line-height:10.5px;font-weight:400;color:#101846;transform:scaleX(1.0312)">Межрегиональное управление Роспотребнадзора по Республике Крым и городу Севастополю</span>
<span id="f6" class="t fglow" style="left:316.66px;top:501.25px;font-size:11.4px;line-height:11.4px;font-weight:400;color:#101846;transform:scaleX(0.9825)">+7978-919-11-23</span>
<span id="f7" class="t iglow" style="left:241.99px;top:514.38px;font-size:9px;line-height:9px;font-weight:400;color:#4d5060;transform:scaleX(1.0105)">Информация за истекшие сутки 23.09.2022</span>
</div>
</body></html>
